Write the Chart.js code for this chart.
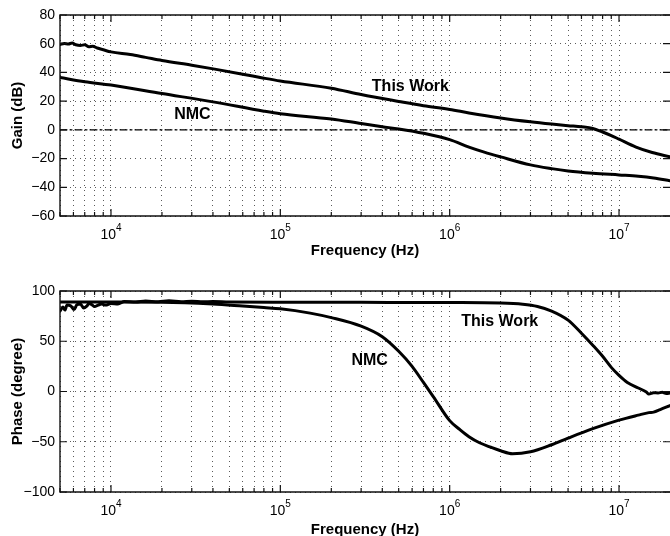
<!DOCTYPE html>
<html><head><meta charset="utf-8">
<script src="https://cdn.jsdelivr.net/npm/chart.js@4.4.1/dist/chart.umd.min.js"></script>
<style>
html,body{margin:0;padding:0;background:#fff;overflow:hidden;width:670px;height:536px;}
.wrap{position:absolute;left:0;width:670px;}
</style></head><body>
<div class="wrap" style="top:0;height:268px"><canvas id="c1" width="670" height="268"></canvas></div>
<div class="wrap" style="top:268px;height:280px"><canvas id="c2" width="670" height="280"></canvas></div>
<script>
// ---------------- DATA ----------------
const X_MIN = 5e3, X_MAX = 2e7;
const decades = [4, 5, 6, 7];

// Gain (dB) - This Work
const fGainTW = [5000,5300,5600,5900,6200,6600,7000,7400,7800,8300,9000,10000,13000,16000,20000,30000,41000,60000,80000,1e5,2e5,3e5,5e5,7e5,1e6,1.3e6,2e6,3e6,4e6,5e6,6e6,7e6,8e6,9e6,1e7,1.26e7,1.57e7,2e7];
const gainTW  = [59.5,60.2,59.8,60.5,59.3,58.8,59.2,57.9,58.3,57.0,55.8,54.3,52.5,50.5,48.3,45.0,42.3,38.8,36.0,34.0,29.0,24.6,19.8,16.8,14.2,11.8,8.3,5.6,4.0,2.9,2.1,1.0,-1.5,-4.0,-6.5,-12.0,-15.8,-18.8];

// Gain (dB) - NMC
const fGainNMC = [5000,7000,10000,20000,40000,80000,1e5,2e5,3e5,4e5,5e5,7e5,1e6,1.3e6,1.6e6,2e6,3e6,4e6,5e6,7e6,1e7,1.3e7,1.6e7,2e7];
const gainNMC  = [36.4,33.5,31.2,25.3,19.5,13.0,11.2,7.6,4.4,2.2,0.6,-2.4,-6.8,-12.0,-15.5,-18.8,-24.4,-27.0,-28.6,-30.2,-31.4,-32.3,-33.5,-35.5];

// Phase (degree) - This Work
const fPhaseTW = [5000,5200,5350,5500,5800,6050,6300,6600,6900,7200,7400,7700,8000,8400,8800,9300,10000,11000,12000,14000,16000,19000,22000,26000,30000,35000,40000,50000,1e5,3e5,1e6,2e6,2.7e6,3.3e6,4e6,5e6,6e6,7e6,8e6,9e6,1e7,1.12e7,1.3e7,1.45e7,1.5e7,1.6e7,1.7e7,1.8e7,1.9e7,2e7];
const phaseTW  = [80,84,81,86,85,81.5,86.5,87,83,85,87.5,86.5,84.5,86,87,86,87.5,87,89.5,89,90,89.3,90.2,89.4,89.8,89.2,89.6,89,88.8,88.7,88.5,88,86.8,84.6,80,71,58,46,35,24,16,9,3.5,-0.5,-2.5,-1.2,-1.5,-0.8,-2,-1.5];

// Phase (degree) - NMC
const fPhaseNMC = [5000,10000,20000,40000,60000,80000,1e5,1.5e5,2e5,3e5,4e5,5e5,6e5,7e5,8e5,1e6,1.15e6,1.3e6,1.5e6,1.75e6,2e6,2.35e6,3e6,4e6,5e6,7e6,1e7,1.3e7,1.5e7,1.6e7,1.75e7,2e7];
const phaseNMC  = [89,89,88.8,87,85,83.5,82.3,78,73.5,65,54.5,40,25,9,-5,-29,-38,-45,-51,-55.5,-59,-62,-60,-53,-46.4,-37,-28.5,-23.5,-21,-20.5,-18,-14];

const zeroLine = [0, 0];

// --------------- HELPERS ---------------
const FONT = "'Liberation Sans', Arial, Helvetica, sans-serif";
const GRID = '#5a5a5a';
const pts = (fs, vs) => fs.map((f, i) => ({x: f, y: vs[i]}));
const minus = v => (v < 0 ? '\u2212' + Math.abs(v) : String(v));

function xTickValues() {
  const out = [];
  for (let d = 3; d <= 7; d++) for (let m = 1; m <= 9; m++) {
    const v = m * Math.pow(10, d);
    if (v >= X_MIN && v < X_MAX) out.push(v);
  }
  return out;
}

const framePlugin = {
  id: 'frame',
  afterDraw(chart, args, opts) {
    const {ctx, chartArea: a, scales: {x, y}} = chart;
    ctx.save();
    ctx.strokeStyle = '#111';
    ctx.lineWidth = 1.4;
    // box (left, top, bottom)
    ctx.beginPath();
    ctx.moveTo(a.right, a.top); ctx.lineTo(a.left, a.top);
    ctx.lineTo(a.left, a.bottom); ctx.lineTo(a.right, a.bottom);
    ctx.stroke();
    // ticks
    ctx.lineWidth = 1.2;
    ctx.beginPath();
    x.ticks.forEach(t => {
      const px = x.getPixelForValue(t.value);
      const len = Math.abs(Math.log10(t.value) - Math.round(Math.log10(t.value))) < 1e-9 ? 7 : 4;
      ctx.moveTo(px, a.bottom); ctx.lineTo(px, a.bottom - len);
      ctx.moveTo(px, a.top); ctx.lineTo(px, a.top + len);
    });
    y.ticks.forEach(t => {
      const py = y.getPixelForValue(t.value);
      ctx.moveTo(a.left, py); ctx.lineTo(a.left + 7, py);
      ctx.moveTo(a.right, py); ctx.lineTo(a.right - 7, py);
    });
    ctx.stroke();
    // decade labels 10^n
    ctx.fillStyle = '#000';
    ctx.textBaseline = 'alphabetic';
    ctx.textAlign = 'left';
    decades.forEach(d => {
      const px = x.getPixelForValue(Math.pow(10, d));
      ctx.font = '14px ' + FONT;
      const w1 = ctx.measureText('10').width;
      ctx.font = '10px ' + FONT;
      const w2 = ctx.measureText(String(d)).width;
      const x0 = px - (w1 + w2) / 2;
      const base = a.bottom + 23;
      ctx.font = '14px ' + FONT;
      ctx.fillText('10', x0, base);
      ctx.font = '10px ' + FONT;
      ctx.fillText(String(d), x0 + w1, base - 8);
    });
    // curve labels
    ctx.font = 'bold 16px ' + FONT;
    (opts.labels || []).forEach(l => {
      ctx.fillText(l.text, x.getPixelForValue(l.x), y.getPixelForValue(l.y));
    });
    ctx.restore();
  }
};

function makeChart(id, datasets, yCfg, padTop, xHeight, xTitlePad, labels) {
  return new Chart(document.getElementById(id), {
    type: 'line',
    data: {datasets},
    options: {
      responsive: false,
      animation: false,
      events: [],
      layout: {padding: {top: padTop, left: 0, right: 0, bottom: 0}},
      plugins: {legend: {display: false}, tooltip: {enabled: false}, frame: {labels}},
      elements: {point: {radius: 0}, line: {borderCapStyle: 'round', borderJoinStyle: 'round'}},
      scales: {
        x: {
          type: 'logarithmic', min: X_MIN, max: X_MAX,
          afterBuildTicks: s => { s.ticks = xTickValues().map(v => ({value: v})); },
          afterFit: s => { s.height = xHeight; },
          ticks: {display: false},
          grid: {color: GRID, lineWidth: 1, drawTicks: false},
          border: {display: false, dash: [1, 4]},
          title: {display: true, text: 'Frequency (Hz)', color: '#000',
                  font: {family: FONT, size: 15, weight: 'bold'}, padding: {top: 0, bottom: xTitlePad}}
        },
        y: {
          min: yCfg.min, max: yCfg.max,
          afterFit: s => { s.width = 60; },
          ticks: {stepSize: yCfg.step, color: '#000', padding: 5,
                  font: {family: FONT, size: 14}, callback: v => minus(v)},
          grid: {color: GRID, lineWidth: 1, drawTicks: false},
          border: {display: false, dash: [1, 4]},
          title: {display: true, text: yCfg.title, color: '#000',
                  font: {family: FONT, size: 15, weight: 'bold'}, padding: {top: 9, bottom: 0}}
        }
      }
    },
    plugins: [framePlugin]
  });
}

const line = (label, data, extra) => Object.assign({
  label, data, borderColor: '#000', borderWidth: 3, pointRadius: 0,
  tension: 0.35, cubicInterpolationMode: 'monotone', fill: false
}, extra || {});

makeChart('c1', [
  line('This Work', pts(fGainTW, gainTW)),
  line('NMC', pts(fGainNMC, gainNMC)),
  line('0 dB', pts([X_MIN, X_MAX], zeroLine), {borderWidth: 1.2, borderDash: [7, 3, 2, 3], tension: 0})
], {min: -60, max: 80, step: 20, title: 'Gain (dB)'}, 15, 52, 8, [
  {text: 'This Work', x: 3.47e5, y: 27.2},
  {text: 'NMC', x: 2.36e4, y: 7.7}
]);

makeChart('c2', [
  line('This Work', pts(fPhaseTW, phaseTW)),
  line('NMC', pts(fPhaseNMC, phaseNMC))
], {min: -100, max: 100, step: 50, title: 'Phase (degree)'}, 23, 56, 9.5, [
  {text: 'This Work', x: 1.17e6, y: 64.7},
  {text: 'NMC', x: 2.63e5, y: 26.6}
]);
</script>
</body></html>
